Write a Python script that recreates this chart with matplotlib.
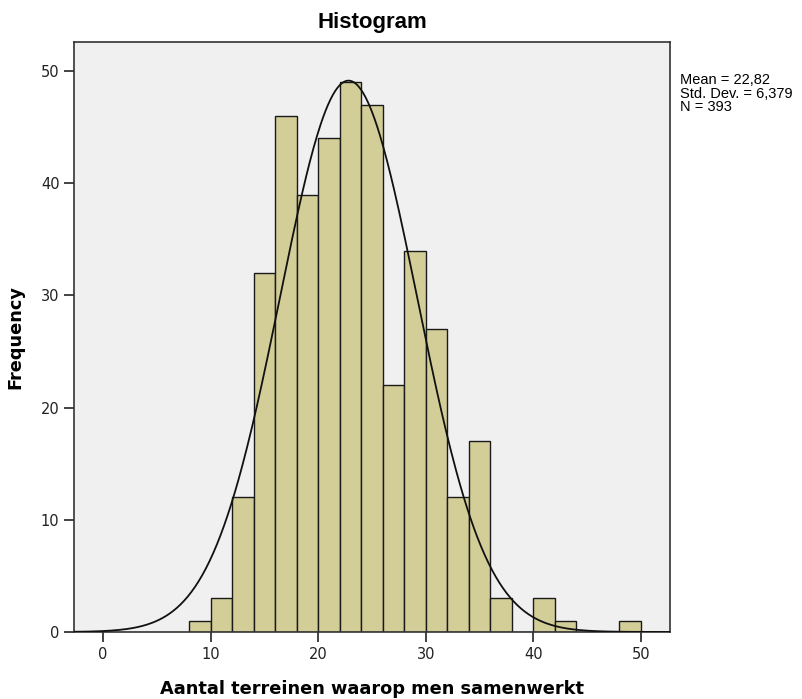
import numpy as np
import matplotlib
matplotlib.use("Agg")
import matplotlib.pyplot as plt

plt.rcParams["font.family"] = ["DejaVu Sans"]

# histogram bins (width 2) and counts
bin_edges = [8, 10, 12, 14, 16, 18, 20, 22, 24, 26, 28, 30, 32, 34, 36, 38, 40, 42, 44, 46, 48, 50]
counts = [1, 3, 12, 32, 46, 39, 44, 49, 47, 22, 34, 27, 12, 17, 3, 0, 3, 1, 0, 0, 1]
mean = 22.82
std = 6.379
n = 393
bin_width = 2

fig = plt.figure(figsize=(8.02, 6.99), dpi=100)
ax = fig.add_axes([0.0923, 0.0959, 0.7431, 0.8440])
ax.set_facecolor("#f0f0f0")

lefts = np.array(bin_edges[:-1])
ax.bar(lefts, counts, width=bin_width, align="edge", color="#d3ce98",
       edgecolor="#1a1a1a", linewidth=1.0, zorder=2)

# normal curve scaled to the histogram
x = np.linspace(-3, 53, 500)
y = n * bin_width * np.exp(-0.5 * ((x - mean) / std) ** 2) / (std * np.sqrt(2 * np.pi))
ax.plot(x, y, color="#111111", linewidth=1.3, zorder=3)

ax.set_xlim(-2.7, 52.7)
ax.set_ylim(0, 52.6)
ax.set_xticks([0, 10, 20, 30, 40, 50])
ax.set_yticks([0, 10, 20, 30, 40, 50])
ax.tick_params(direction="out", length=7, width=1.2, labelsize=10.5, colors="#222222")
for s in ax.spines.values():
    s.set_linewidth(1.2)
    s.set_color("#333333")

ax.set_xlabel("Aantal terreinen waarop men samenwerkt", fontsize=12.8, fontweight="bold", labelpad=13)
ax.set_ylabel("Frequency", fontsize=12.8, fontweight="bold", labelpad=12)
ax.set_title("Histogram", fontsize=16, fontweight="bold", family="Liberation Sans", pad=10)

stats = "Mean = 22,82\nStd. Dev. = 6,379\nN = 393"
fig.text(0.848, 0.895, stats, fontsize=10.5, family="Liberation Sans",
         va="top", ha="left", linespacing=0.95)

fig.savefig("out.png", dpi=100)
